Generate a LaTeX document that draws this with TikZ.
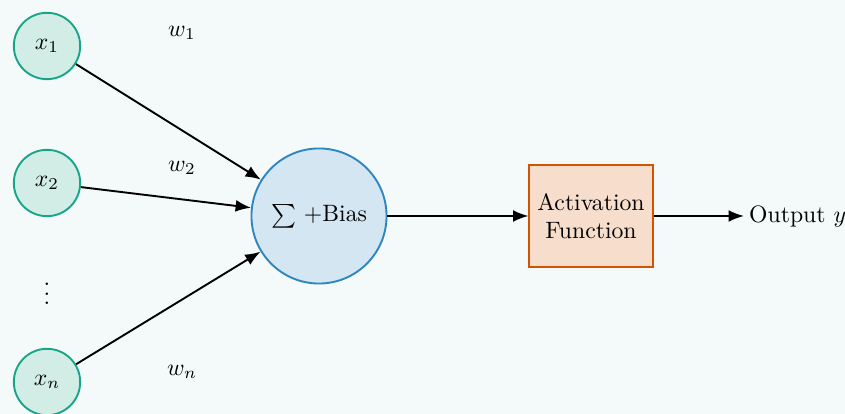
\documentclass[tikz,border=0pt]{standalone}
\usetikzlibrary{arrows.meta}
\definecolor{bgc}{HTML}{F4F9F9}
\definecolor{infill}{HTML}{D1EDE6}
\definecolor{indraw}{HTML}{17A589}
\definecolor{sumfill}{HTML}{D4E6F1}
\definecolor{sumdraw}{HTML}{2E86C1}
\definecolor{actfill}{HTML}{F6DDCC}
\definecolor{actdraw}{HTML}{D35400}
\tikzset{
  inputnode/.style={circle, draw=indraw, fill=infill, line width=0.8pt, minimum size=28pt, inner sep=0pt},
  sumnode/.style={circle, draw=sumdraw, fill=sumfill, line width=0.8pt, minimum size=57pt, inner sep=0pt},
  actnode/.style={rectangle, draw=actdraw, fill=actfill, line width=0.8pt, minimum width=52pt, minimum height=43pt, align=center, inner sep=2pt},
  conn/.style={-{Latex[length=6.5pt,width=5pt]}, line width=0.8pt},
}
\begin{document}
\begin{tikzpicture}[x=0.422pt,y=-0.422pt]
\fill[bgc] (0,0) rectangle (845,414);
\useasboundingbox (0,0) rectangle (845,414);
\node[inputnode] (x1) at (47,46) {$x_1$};
\node[inputnode] (x2) at (47,183) {$x_2$};
\node (dots) at (47,287) {$\vdots$};
\node[inputnode] (xn) at (47,382) {$x_n$};
\node (w1) at (182,33) {$w_1$};
\node (w2) at (182,168) {$w_2$};
\node (wn) at (182,372) {$w_n$};
\node[sumnode] (sum) at (319,216) {$\sum$ +Bias};
\node[actnode] (act) at (591,216) {Activation\\Function};
\node[anchor=west, inner sep=2pt] (out) at (744,216) {Output $y$};
\draw[conn] (x1) -- (sum);
\draw[conn] (x2) -- (sum);
\draw[conn] (xn) -- (sum);
\draw[conn] (sum) -- (act);
\draw[conn] (act) -- (out);
\end{tikzpicture}
\end{document}
